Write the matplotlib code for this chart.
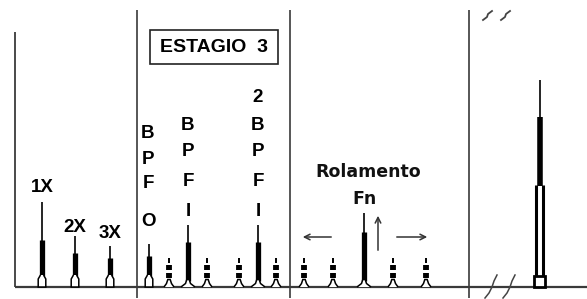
#%% LIBRERIAS:
import matplotlib.pyplot as plt
from matplotlib.patches import Polygon, Rectangle

#%% DADOS (unidades de pixel da figura, y cresce para baixo):
# picos principais: posicao, topo da linha fina, topo da parte grossa, tipo de base
picos_x = [42, 75, 110, 149, 188, 258, 364]
picos_topo = [202, 236, 246, 244, 225, 225, 213]
picos_grosso = [240, 253, 258, 256, 242, 242, 232]
picos_base = ["tulipa", "tulipa", "tulipa", "tulipa", "arco", "arco", "arco"]

# picos pequenos tracejados (bandas laterais)
tracejados_x = [169, 207, 239, 276, 304, 333, 393, 426]

# pico grande depois da quebra do eixo
grande_x = 539.5
grande_topo = 80
grande_grosso = 117
grande_duplo = 185

rotulos_x = ["1X", "2X", "3X"]
rotulos_x_pos = [(42, 187), (75, 228), (110, 233)]

# rotulos verticais (letra por letra)
bpfo_letras = ["B", "P", "F", "O"]
bpfo_y = [134, 159, 183, 222]
bpfi_letras = ["B", "P", "F", "I"]
bpfi_y = [126, 152, 182, 212]
bpfi2_letras = ["2", "B", "P", "F", "I"]
bpfi2_y = [97, 126, 152, 182, 212]

BASE = 287
cor_eixo = "#3a3a3a"

#%% FIGURA:
fig = plt.figure(figsize=(5.87, 2.99), dpi=100)
ax = fig.add_axes([0, 0, 1, 1])
ax.set_xlim(0, 587)
ax.set_ylim(299, 0)
ax.axis("off")

# eixos e divisorias
ax.vlines(15, 32, BASE, color=cor_eixo, lw=1.3)
ax.hlines(BASE, 15, 587, color=cor_eixo, lw=1.6)
for xd in [137, 290, 469]:
    ax.vlines(xd, 10, 298, color=cor_eixo, lw=1.2)


def base_tulipa(x):
    pts = [(x - 1.5, 275), (x - 3.8, 279), (x - 3.8, BASE), (x + 3.8, BASE),
           (x + 3.8, 279), (x + 1.5, 275)]
    ax.add_patch(Polygon(pts, closed=False, fc="white", ec="black", lw=1.1, zorder=3))


def base_arco(x, larg=7):
    pts = [(x - larg, BASE), (x - 2.5, 283.5), (x - 1.2, 279.5), (x + 1.2, 279.5),
           (x + 2.5, 283.5), (x + larg, BASE)]
    ax.add_patch(Polygon(pts, closed=False, fc="white", ec="black", lw=1.1, zorder=3))


#%% PICOS:
for x, t, g, b in zip(picos_x, picos_topo, picos_grosso, picos_base):
    ax.vlines(x, t, g + 2, color="black", lw=1.2, zorder=2)
    if b == "tulipa":
        ax.vlines(x, g, 276, color="black", lw=3.8, zorder=2)
        base_tulipa(x)
    else:
        ax.vlines(x, g, 281, color="black", lw=3.8, zorder=2)
        base_arco(x)

for x in tracejados_x:
    ax.vlines(x, 258, 262.5, color="black", lw=1.4)
    ax.vlines(x, 265, 270, color="black", lw=4.2)
    ax.vlines(x, 272.5, 278, color="black", lw=4.2)
    base_arco(x, larg=5)

# pico grande
ax.vlines(grande_x, grande_topo, grande_grosso + 2, color="black", lw=1.2)
ax.vlines(grande_x, grande_grosso, grande_duplo + 1, color="black", lw=4.0)
ax.vlines([grande_x - 3.8, grande_x + 3.8], grande_duplo, 277, color="black", lw=2.2)
ax.add_patch(Rectangle((grande_x - 5.5, 276), 11, BASE - 276,
                       fc="white", ec="black", lw=2.0, zorder=3))

# marcas de quebra
for xq in [483, 501]:
    ax.plot([xq, xq + 4, xq + 5, xq + 9], [20, 17, 14, 11], color="#444444", lw=1.3)
for xq in [485, 503]:
    ax.plot([xq, xq + 4, xq + 7, xq + 9, xq + 12], [298, 293, 287, 281, 275],
            color="#444444", lw=1.1)

# setas
kw = dict(arrowstyle="->", color="#333333", lw=1.1, mutation_scale=10)
ax.annotate("", xy=(300, 237), xytext=(334, 237), arrowprops=kw)
ax.annotate("", xy=(430, 237), xytext=(394, 237), arrowprops=kw)
ax.annotate("", xy=(378, 213), xytext=(378, 253), arrowprops=kw)

#%% TEXTOS:
fonte = dict(family="Liberation Sans", weight="bold", fontsize=13.5,
             ha="center", va="center", color="black")
for r, (xr, yr) in zip(rotulos_x, rotulos_x_pos):
    ax.text(xr, yr, r, **fonte)
for l, yl in zip(bpfo_letras, bpfo_y):
    ax.text(148, yl, l, **fonte)
for l, yl in zip(bpfi_letras, bpfi_y):
    ax.text(188, yl, l, **fonte)
for l, yl in zip(bpfi2_letras, bpfi2_y):
    ax.text(258, yl, l, **fonte)

ax.add_patch(Rectangle((150, 30), 128, 34, fc="white", ec="#222222", lw=1.2))
ax.text(214, 47.5, "ESTAGIO  3", **dict(fonte, fontsize=14))

fonte2 = dict(family="DejaVu Sans", weight="bold", fontsize=12.5,
              ha="center", va="center", color="#111111")
ax.text(368, 172, "Rolamento", **fonte2)
ax.text(365, 199, "Fn", **fonte2)

fig.savefig("out.png", dpi=100)
